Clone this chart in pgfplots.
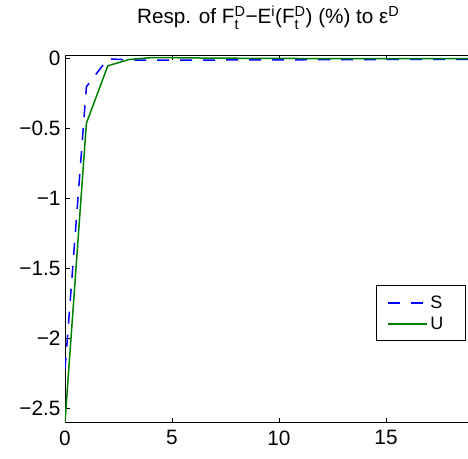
\documentclass[border=0pt]{standalone}
\usepackage{fontspec}
\setmainfont{Liberation Sans}
\usepackage{amsmath}
\usepackage{pgfplots}
\pgfplotsset{compat=1.18}
\definecolor{mgreen}{rgb}{0,0.5,0}
\begin{document}
\begin{tikzpicture}
\begin{axis}[
 at={(0pt,0pt)}, anchor=south west,
 scale only axis, width=406.6pt, height=366pt,
 xmin=0, xmax=19, ymin=-2.595, ymax=0.02,
 xtick={0,5,10,15}, xticklabels={0,5,10,15},
 ytick={-2.5,-2,-1.5,-1,-0.5,0}, yticklabels={−2.5,−2,−1.5,−1,−0.5,0},
 ytick pos=left, xtick pos=both,
 tick align=inside, major tick length=4.5pt,
 tick style={black, line width=0.8pt},
 axis line style={line width=1pt},
 ticklabel style={font=\fontsize{20.8}{23}\selectfont},
 xticklabel style={yshift=-5pt},
 yticklabel style={xshift=-1pt},
 title={Resp. of F$^{\text{D}}_{\text{t}}$−E$^{\text{i}}$(F$^{\text{D}}_{\text{t}}$) (\%) to ε$^{\text{D}}$},
 title style={font=\fontsize{20.7}{24}\selectfont, at={(0.5,1)}, anchor=base, yshift=26pt},
 legend style={at={(0.986,0.3735)}, anchor=north east, draw=black, line width=1pt,
   font=\fontsize{18}{20}\selectfont, inner xsep=10pt, inner ysep=9pt, row sep=5pt,
   nodes={inner xsep=3pt, inner ysep=1pt}},
 legend cell align=left,
 legend image code/.code={\draw[#1] (0pt,0pt) -- (39pt,0pt);},
]
\addplot[blue, line width=1.5pt, dash pattern=on 12pt off 11pt] coordinates {
 (0,-2.22) (1,-0.2) (2,0.0) (3,-0.008) (4,-0.01) (5,-0.01) (6,-0.01) (7,-0.009) (8,-0.008) (9,-0.008) (10,-0.007) (11,-0.007) (12,-0.006) (13,-0.006) (14,-0.006) (15,-0.005) (16,-0.005) (17,-0.005) (18,-0.005) (19,-0.005)
};
\addlegendentry{S\kern9pt}
\addplot[mgreen, line width=1.5pt] coordinates {
 (0,-2.595) (1,-0.46) (2,-0.05) (3,-0.005) (4,0.008) (5,0.008) (6,0.006) (7,0.005) (8,0.004) (9,0.003) (10,0.003) (11,0.002) (12,0.002) (13,0.002) (14,0.002) (15,0.001) (16,0.001) (17,0.001) (18,0.001) (19,0.001)
};
\addlegendentry{U\kern9pt}
\end{axis}
\pgfresetboundingbox
\useasboundingbox (-65pt,-36pt) rectangle (403pt,422pt);
\end{tikzpicture}
\end{document}
